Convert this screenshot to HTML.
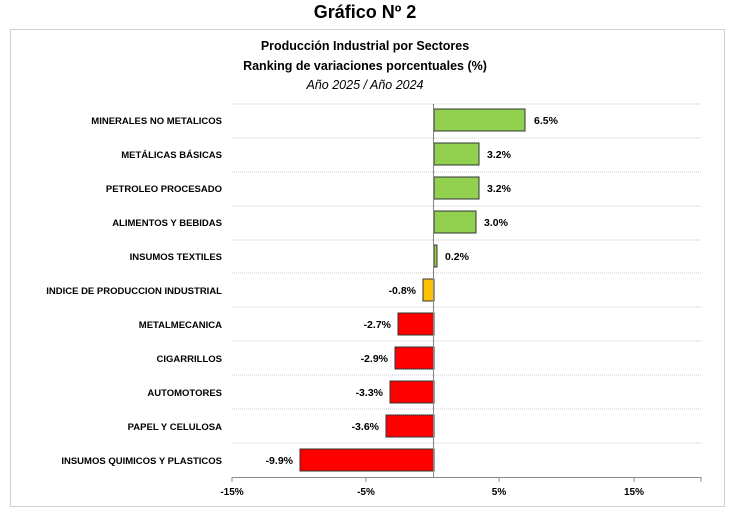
<!DOCTYPE html>
<html><head><meta charset="utf-8"><style>
body{margin:0;background:#fff;width:730px;height:512px;overflow:hidden;font-family:"Liberation Sans",sans-serif}
</style></head><body>
<svg width="730" height="512" xmlns="http://www.w3.org/2000/svg" font-family="Liberation Sans, sans-serif">
<text x="365" y="18" text-anchor="middle" font-size="18" font-weight="bold" fill="#000">Gráfico Nº 2</text>
<rect x="10.5" y="29.5" width="714" height="477" fill="#fff" stroke="#d0d0d0"/>
<text x="365" y="50" text-anchor="middle" font-size="12.5" font-weight="bold">Producción Industrial por Sectores</text>
<text x="365" y="70" text-anchor="middle" font-size="12.5" font-weight="bold">Ranking de variaciones porcentuales (%)</text>
<text x="365" y="89" text-anchor="middle" font-size="12.5" font-style="italic">Año 2025 / Año 2024</text>
<g stroke="#c8c8c8" stroke-dasharray="1,1">
<line x1="232" x2="701" y1="104" y2="104"/><line x1="232" x2="701" y1="138" y2="138"/><line x1="232" x2="701" y1="172" y2="172"/><line x1="232" x2="701" y1="206" y2="206"/><line x1="232" x2="701" y1="240" y2="240"/><line x1="232" x2="701" y1="273" y2="273"/><line x1="232" x2="701" y1="307" y2="307"/><line x1="232" x2="701" y1="341" y2="341"/><line x1="232" x2="701" y1="375" y2="375"/><line x1="232" x2="701" y1="409" y2="409"/><line x1="232" x2="701" y1="443" y2="443"/>
</g>
<g stroke="#333" stroke-width="1">
<rect x="434" y="109" width="91" height="22" fill="#92d050"/>
<rect x="434" y="143" width="45" height="22" fill="#92d050"/>
<rect x="434" y="177" width="45" height="22" fill="#92d050"/>
<rect x="434" y="211" width="42" height="22" fill="#92d050"/>
<rect x="434" y="245" width="3" height="22" fill="#92d050"/>
<rect x="423" y="279" width="11" height="22" fill="#ffc000"/>
<rect x="398" y="313" width="36" height="22" fill="#ff0000"/>
<rect x="395" y="347" width="39" height="22" fill="#ff0000"/>
<rect x="390" y="381" width="44" height="22" fill="#ff0000"/>
<rect x="386" y="415" width="48" height="22" fill="#ff0000"/>
<rect x="300" y="449" width="134" height="22" fill="#ff0000"/>
</g>
<g stroke="#888"><line x1="433.5" x2="433.5" y1="104" y2="477"/><line x1="232" x2="701" y1="477.5" y2="477.5"/>
<line x1="232" x2="232" y1="477" y2="482"/><line x1="366" x2="366" y1="477" y2="482"/><line x1="499" x2="499" y1="477" y2="482"/><line x1="634" x2="634" y1="477" y2="482"/><line x1="701" x2="701" y1="477" y2="482"/></g>
<g font-size="10" font-weight="bold" text-anchor="middle">
<text x="232" y="495">-15%</text><text x="366" y="495">-5%</text><text x="499" y="495">5%</text><text x="634" y="495">15%</text></g>
<g font-size="9.5" font-weight="bold" text-anchor="end">
<text x="222" y="124">MINERALES NO METALICOS</text>
<text x="222" y="158">METÁLICAS BÁSICAS</text>
<text x="222" y="192">PETROLEO PROCESADO</text>
<text x="222" y="226">ALIMENTOS Y BEBIDAS</text>
<text x="222" y="260">INSUMOS TEXTILES</text>
<text x="222" y="294">INDICE DE PRODUCCION INDUSTRIAL</text>
<text x="222" y="328">METALMECANICA</text>
<text x="222" y="362">CIGARRILLOS</text>
<text x="222" y="396">AUTOMOTORES</text>
<text x="222" y="430">PAPEL Y CELULOSA</text>
<text x="222" y="464">INSUMOS QUIMICOS Y PLASTICOS</text>
</g>
<g font-size="10.5" font-weight="bold">
<text x="534" y="124">6.5%</text><text x="487" y="158">3.2%</text><text x="487" y="192">3.2%</text><text x="484" y="226">3.0%</text><text x="445" y="260">0.2%</text>
<g text-anchor="end"><text x="416" y="294">-0.8%</text><text x="391" y="328">-2.7%</text><text x="388" y="362">-2.9%</text><text x="383" y="396">-3.3%</text><text x="379" y="430">-3.6%</text><text x="293" y="464">-9.9%</text></g>
</g>
</svg>
</body></html>
